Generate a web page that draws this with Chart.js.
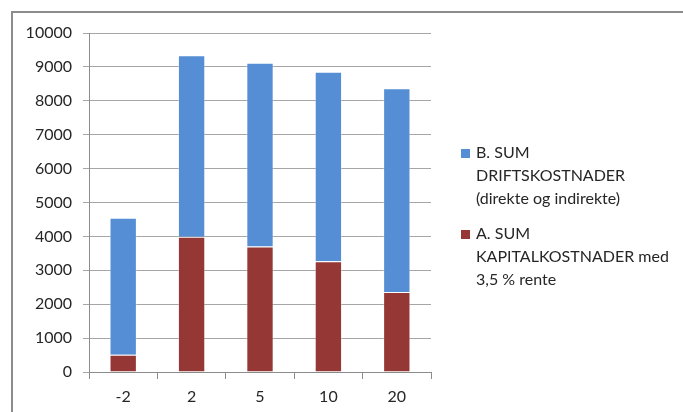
<!DOCTYPE html>
<html>
<head>
<meta charset="utf-8">
<script src="https://cdn.jsdelivr.net/npm/chart.js@4.4.1/dist/chart.umd.min.js"></script>
<style>
  html, body { margin: 0; padding: 0; background: #fff; }
  #wrap { position: relative; width: 683px; height: 412px; }
</style>
</head>
<body>
<div id="wrap"><canvas id="costChart" width="683" height="412"></canvas></div>
<script>
// Kostnader per alternativ
const categories = ['-2', '2', '5', '10', '20'];
const kapitalkostnader = [510, 3990, 3700, 3270, 2360];
const driftskostnader = [4040, 5350, 5420, 5590, 6010];
const yTicks = [0, 1000, 2000, 3000, 4000, 5000, 6000, 7000, 8000, 9000, 10000];

const driftLabel = ['B. SUM', 'DRIFTSKOSTNADER', '(direkte og indirekte)'];
const kapitalLabel = ['A. SUM', 'KAPITALKOSTNADER med', '3,5 % rente'];

const BLUE = '#558ed5';
const RED = '#953735';
const TEXT = '#262626';
const FONT = 'Lato, "Open Sans", sans-serif';

// frame + multi-line legend on the right
const framePlugin = {
  id: 'frame',
  beforeDraw(chart) {
    const ctx = chart.ctx;
    ctx.save();
    ctx.strokeStyle = '#8c8c8c';
    ctx.lineWidth = 2;
    ctx.beginPath();
    ctx.moveTo(12, 412);
    ctx.lineTo(12, 12);
    ctx.lineTo(683, 12);
    ctx.stroke();
    ctx.restore();
  },
  afterDraw(chart) {
    const ctx = chart.ctx;
    const items = [
      { color: BLUE, lines: driftLabel, y: 153 },
      { color: RED, lines: kapitalLabel, y: 234 }
    ];
    ctx.save();
    ctx.font = '16px ' + FONT;
    ctx.textBaseline = 'middle';
    items.forEach(item => {
      ctx.fillStyle = item.color;
      ctx.fillRect(461, item.y - 4, 9, 9);
      ctx.fillStyle = TEXT;
      item.lines.forEach((line, i) => {
        ctx.fillText(line, 476, item.y + i * 23);
      });
    });
    ctx.restore();
  }
};

new Chart(document.getElementById('costChart'), {
  type: 'bar',
  data: {
    labels: categories,
    datasets: [
      {
        label: kapitalLabel.join(' '),
        data: kapitalkostnader,
        backgroundColor: RED,
        borderColor: 'rgba(255,255,255,0.35)',
        borderWidth: 1
      },
      {
        label: driftLabel.join(' '),
        data: driftskostnader,
        backgroundColor: BLUE,
        borderColor: 'rgba(255,255,255,0.35)',
        borderWidth: 1
      }
    ]
  },
  options: {
    responsive: false,
    animation: false,
    layout: { padding: { top: 33, right: 252, bottom: 0, left: 0 } },
    datasets: { bar: { categoryPercentage: 1, barPercentage: 0.4 } },
    scales: {
      x: {
        stacked: true,
        afterFit: s => { s.height = 40; },
        grid: { offset: true, drawOnChartArea: false, tickLength: 7, color: '#8c8c8c' },
        border: { color: '#8c8c8c' },
        ticks: { color: TEXT, font: { family: FONT, size: 16 }, padding: 8 }
      },
      y: {
        stacked: true,
        min: 0,
        max: 10000,
        afterFit: s => { s.width = 89; },
        afterBuildTicks: s => { s.ticks = yTicks.map(v => ({ value: v })); },
        grid: { color: '#a6a6a6', tickLength: 6 },
        border: { color: '#8c8c8c' },
        ticks: {
          color: TEXT,
          font: { family: FONT, size: 16 },
          padding: 11,
          callback: v => String(v)
        }
      }
    },
    plugins: {
      legend: { display: false },
      tooltip: { enabled: false }
    }
  },
  plugins: [framePlugin]
});
</script>
</body>
</html>
